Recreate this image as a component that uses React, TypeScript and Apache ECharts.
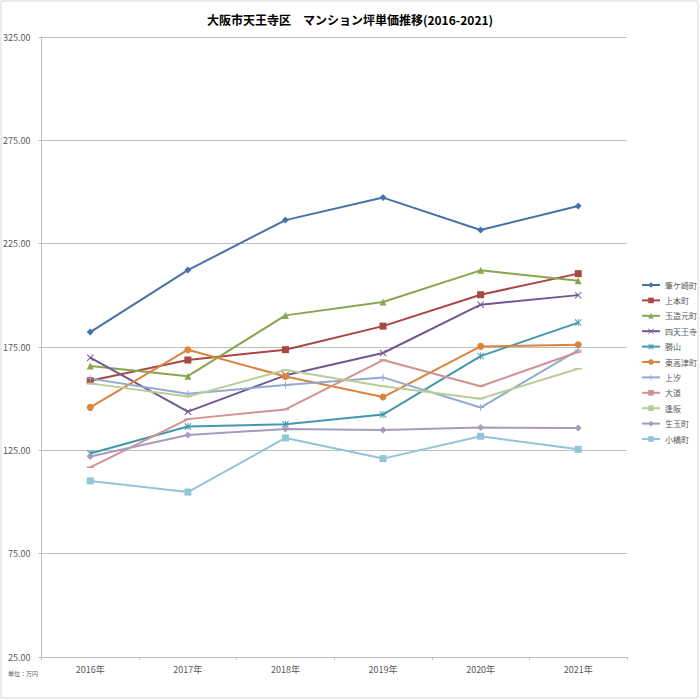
import React, { useEffect, useRef } from "react";
import * as echarts from "echarts";

const years = ["2016年", "2017年", "2018年", "2019年", "2020年", "2021年"];

const fudegasaki = [182.2, 212.2, 236.4, 247.3, 231.6, 243.2];
const uehonmachi = [158.7, 168.7, 173.7, 185.1, 200.3, 210.5];
const tamatsukuriMotomachi = [165.8, 160.9, 190.3, 196.8, 212.1, 207.1];
const shitennoji = [169.8, 143.7, 161.3, 172.1, 195.5, 200.1];
const katsuyama = [123.5, 136.5, 137.6, 142.3, 170.6, 186.8];
const higashiKozu = [145.8, 173.7, 160.7, 150.8, 175.3, 176.1];
const ueshio = [159.7, 152.4, 156.6, 160.3, 145.7, 173.5];
const daido = [116.8, 140.1, 144.8, 168.7, 156.0, 172.6];
const ohsaka = [157.4, 151.0, 163.9, 156.0, 150.0, 164.5];
const ikutama = [122.0, 132.4, 135.3, 134.8, 136.0, 135.8];
const kobashi = [110.2, 104.8, 131.0, 121.0, 131.8, 125.5];

const seriesNames = ["筆ケ崎町", "上本町", "玉造元町", "四天王寺", "勝山", "東高津町", "上汐", "大道", "逢阪", "生玉町", "小橋町"];
const seriesData = [fudegasaki, uehonmachi, tamatsukuriMotomachi, shitennoji, katsuyama, higashiKozu, ueshio, daido, ohsaka, ikutama, kobashi];
const colors = ["#4572A7", "#AA4643", "#89A54E", "#71588F", "#4198AF", "#DB843D", "#93A9CF", "#D19392", "#B9CD96", "#A99BBD", "#92C5D8"];

const X_SYM = "path://M0,1L1,0L5,4L9,0L10,1L6,5L10,9L9,10L5,6L1,10L0,9L4,5Z";
const STAR_SYM = "path://M0,1L1,0L5,4L9,0L10,1L6,5L10,9L9,10L5,6L1,10L0,9L4,5ZM4.4,0H5.6V10H4.4Z";
const PLUS_SYM = "path://M4.3,0H5.7V4.3H10V5.7H5.7V10H4.3V5.7H0V4.3H4.3Z";
const DASH_SYM = "path://M0,0H10V2H0Z";
const symbols = ["diamond", "rect", "triangle", X_SYM, STAR_SYM, "circle", PLUS_SYM, DASH_SYM, DASH_SYM, "diamond", "rect"];
const symbolSizes: (number | number[])[] = [7, 7, 7, 7, 7, 7, 7, [7, 1.5], [8, 1.5], 7, 7];

const FONT = "'Noto Sans CJK JP', 'Noto Sans', sans-serif";

export default function App() {
  const ref = useRef<HTMLDivElement>(null);
  useEffect(() => {
    if (!ref.current) return;
    const chart = echarts.init(ref.current, undefined, { renderer: "svg" });
    chart.setOption({
      animation: false,
      backgroundColor: "#ffffff",
      color: colors,
      title: {
        text: "大阪市天王寺区　マンション坪単価推移(2016-2021)",
        left: "center",
        top: 8,
        textStyle: { fontFamily: FONT, fontSize: 12, fontWeight: "bold", color: "#000000" },
      },
      grid: { left: 41, right: 73, top: 37, bottom: 43, containLabel: false },
      legend: {
        orient: "vertical",
        left: 636,
        top: 276,
        itemWidth: 18,
        itemHeight: 7,
        itemGap: 7.4,
        textStyle: { fontFamily: FONT, fontSize: 8, color: "#595959", lineHeight: 8 },
        data: seriesNames,
      },
      xAxis: {
        type: "category",
        data: years,
        boundaryGap: true,
        axisLine: { show: true, lineStyle: { color: "#BFBFBF", width: 1 } },
        axisTick: { show: true, length: 3, lineStyle: { color: "#BFBFBF" } },
        axisLabel: { fontFamily: FONT, fontSize: 9, color: "#595959", margin: 8 },
        splitLine: { show: false },
      },
      yAxis: {
        type: "value",
        min: 25,
        max: 325,
        interval: 50,
        axisLine: { show: true, lineStyle: { color: "#BFBFBF", width: 1 } },
        axisTick: { show: true, length: 3, lineStyle: { color: "#BFBFBF" } },
        axisLabel: {
          fontFamily: FONT,
          fontSize: 9,
          color: "#595959",
          margin: 11,
          formatter: (v: number) => v.toFixed(2),
        },
        splitLine: { show: true, lineStyle: { color: "#BFBFBF", width: 1 } },
      },
      graphic: [
        {
          type: "rect",
          shape: { x: 1, y: 1, width: 697, height: 697 },
          style: { fill: "none", stroke: "#D9D9D9", lineWidth: 1 },
          silent: true,
        },
        {
          type: "text",
          left: 8,
          top: 670,
          style: { text: "単位：万円", fontFamily: FONT, fontSize: 6, fill: "#595959" },
        },
      ],
      series: seriesNames.map((name, i) => ({
        name,
        type: "line",
        data: seriesData[i],
        symbol: symbols[i],
        symbolSize: symbolSizes[i],
        showAllSymbol: true,
        lineStyle: { width: 2, color: colors[i] },
        itemStyle: { color: colors[i] },
        emphasis: { disabled: true },
      })),
    });
    return () => chart.dispose();
  }, []);
  return <div ref={ref} style={{ position: "absolute", left: 0, top: 0, width: 700, height: 700 }} />;
}
